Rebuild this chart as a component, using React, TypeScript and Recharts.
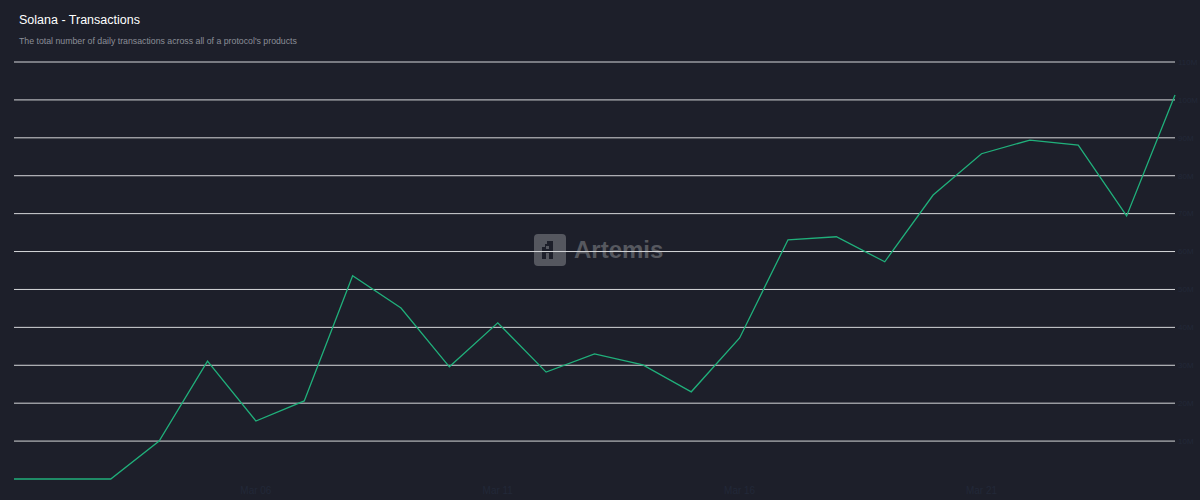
import { LineChart, Line, XAxis, YAxis, CartesianGrid } from 'recharts'

// daily transactions (millions)
const DATES = [
  'Mar 01', 'Mar 02', 'Mar 03', 'Mar 04', 'Mar 05', 'Mar 06', 'Mar 07', 'Mar 08', 'Mar 09',
  'Mar 10', 'Mar 11', 'Mar 12', 'Mar 13', 'Mar 14', 'Mar 15', 'Mar 16', 'Mar 17', 'Mar 18',
  'Mar 19', 'Mar 20', 'Mar 21', 'Mar 22', 'Mar 23', 'Mar 24', 'Mar 25',
]
const TXNS = [
  0, 0, 0, 10.0, 31.1, 15.3, 20.6, 53.6, 45.1, 29.6, 41.2, 28.2, 33.0,
  30.1, 23.0, 37.2, 63.1, 63.9, 57.3, 74.9, 85.8, 89.4, 88.1, 69.4, 101.3,
]
const X_TICKS = ['Mar 06', 'Mar 11', 'Mar 16', 'Mar 21']
const Y_MAX = 110
const Y_TICKS = [10, 20, 30, 40, 50, 60, 70, 80, 90, 100, 110]

const BG = '#1d1f2a'

const data = DATES.map((d, i) => ({ date: d, txns: TXNS[i] }))

// grid only at the labelled ticks (no line on the zero baseline)
const gridRows = ({ offset }: any) =>
  Y_TICKS.map(t => offset.top + offset.height * (1 - t / Y_MAX))

export default function App() {
  return (
    <div style={{ position: 'absolute', left: 0, top: 0, width: 1200, height: 500, background: BG, fontFamily: '"Liberation Sans", Arial, sans-serif', overflow: 'hidden' }}>
      {/* Header */}
      <div style={{ position: 'absolute', left: 19, top: 13, color: '#ffffff', fontSize: 12.5 }}>Solana - Transactions</div>
      <div style={{ position: 'absolute', left: 19, top: 36, color: '#8b8e97', fontSize: 8.75 }}>
        The total number of daily transactions across all of a protocol's products
      </div>

      {/* Watermark */}
      <div style={{ position: 'absolute', left: 534, top: 234, display: 'flex', alignItems: 'center', gap: 8 }}>
        <svg width="32" height="32" viewBox="0 0 32 32">
          <rect x="0" y="0" width="32" height="32" rx="4" fill="#55575f" />
          <path d="M13 7h6v18h-4v-6h-3v6H8V13h3v-3h2z M12 15h3v-3h-3z" fill={BG} fillRule="evenodd" />
        </svg>
        <span style={{ color: '#56585f', fontSize: 24, fontWeight: 700 }}>Artemis</span>
      </div>

      <LineChart width={1200} height={500} data={data} margin={{ top: 62, right: 0, bottom: 0, left: 14 }} style={{ position: 'absolute', left: 0, top: 0 }}>
        <CartesianGrid vertical={false} stroke="#d6d7da" strokeWidth={1} horizontalCoordinatesGenerator={gridRows} />
        <XAxis dataKey="date" height={21} axisLine={false} tickLine={false} ticks={X_TICKS}
          tick={{ fill: '#222838', fontSize: 10 }} />
        <YAxis orientation="right" width={25} domain={[0, Y_MAX]} ticks={Y_TICKS} axisLine={false} tickLine={false}
          tickSize={0} tickMargin={3} tick={{ fill: '#222838', fontSize: 8 }} tickFormatter={v => `${v}M`} />
        <Line type="linear" dataKey="txns" stroke="#20b07b" strokeWidth={1.3} dot={false} isAnimationActive={false} />
      </LineChart>
    </div>
  )
}
